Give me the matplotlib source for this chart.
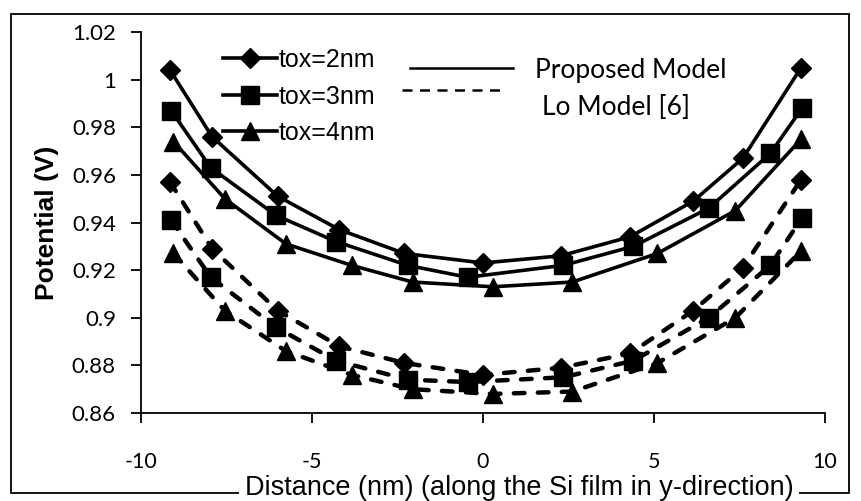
import matplotlib
matplotlib.use('Agg')
import matplotlib.pyplot as plt
from matplotlib.lines import Line2D
from matplotlib.patches import Rectangle

plt.rcParams['axes.unicode_minus'] = False

# x positions (nm) for each oxide thickness
x_tox2 = [-9.15, -7.92, -6.0, -4.2, -2.3, 0.0, 2.27, 4.3, 6.15, 7.6, 9.3]
x_tox3 = [-9.12, -7.96, -6.05, -4.3, -2.2, -0.45, 2.35, 4.4, 6.6, 8.4, 9.33]
x_tox4 = [-9.05, -7.55, -5.76, -3.84, -2.06, 0.28, 2.61, 5.1, 7.38, 9.3]

# proposed model (solid)
prop_tox2 = [1.004, 0.976, 0.951, 0.937, 0.927, 0.923, 0.926, 0.934, 0.949, 0.967, 1.005]
prop_tox3 = [0.987, 0.963, 0.943, 0.932, 0.922, 0.917, 0.922, 0.930, 0.946, 0.969, 0.988]
prop_tox4 = [0.974, 0.950, 0.931, 0.922, 0.915, 0.913, 0.915, 0.927, 0.945, 0.975]

# Lo model [6] (dashed)
lo_tox2 = [0.957, 0.929, 0.903, 0.888, 0.881, 0.876, 0.879, 0.885, 0.903, 0.921, 0.958]
lo_tox3 = [0.941, 0.917, 0.896, 0.882, 0.874, 0.873, 0.875, 0.882, 0.900, 0.922, 0.942]
lo_tox4 = [0.927, 0.903, 0.886, 0.876, 0.870, 0.868, 0.869, 0.881, 0.900, 0.928]

labels = ['tox=2nm', 'tox=3nm', 'tox=4nm']
markers = ['D', 's', '^']
msizes = [10, 12.5, 13]
x_ticks = [-10, -5, 0, 5, 10]
y_ticks = [0.86, 0.88, 0.9, 0.92, 0.94, 0.96, 0.98, 1.0, 1.02]
y_ticklabels = ['0.86', '0.88', '0.9', '0.92', '0.94', '0.96', '0.98', '1', '1.02']

fig = plt.figure(figsize=(8.61, 5.01), dpi=100)
ax = fig.add_axes([141 / 861, 88 / 501, 684 / 861, 381 / 501])

xs = [x_tox2, x_tox3, x_tox4]
props = [prop_tox2, prop_tox3, prop_tox4]
los = [lo_tox2, lo_tox3, lo_tox4]

handles = []
for x, yp, yl, m, ms, lab in zip(xs, props, los, markers, msizes, labels):
    h, = ax.plot(x, yp, color='black', lw=2.6, marker=m, ms=ms, label=lab)
    ax.plot(x, yl, color='black', lw=3.2, marker=m, ms=ms,
            dashes=(2.4, 3.0), dash_capstyle='round')
    handles.append(h)

ax.set_xlim(-10, 10)
ax.set_ylim(0.86, 1.02)
ax.set_xticks(x_ticks)
ax.set_yticks(y_ticks)
ax.set_yticklabels(y_ticklabels)
for sp in ['top', 'right']:
    ax.spines[sp].set_visible(False)
for sp in ['left', 'bottom']:
    ax.spines[sp].set_linewidth(1.3)
ax.tick_params(axis='y', direction='out', length=7, width=1.3, pad=11, labelsize=16)
ax.tick_params(axis='x', direction='out', length=7, width=1.3, pad=21, labelsize=15.5)
for t in ax.get_xticklabels() + ax.get_yticklabels():
    t.set_fontfamily('Lato')

ax.set_ylabel('Potential (V)', fontsize=19, fontweight='bold',
              fontfamily='Liberation Sans', labelpad=9)

ax.legend(handles=handles, loc='upper left', bbox_to_anchor=(0.12, 0.958),
          frameon=False, borderpad=0, borderaxespad=0, handlelength=2.15,
          handletextpad=0.06, labelspacing=0.5,
          prop={'family': 'Liberation Sans', 'size': 18})

# model key, drawn by hand as in the original
ax.add_line(Line2D([0.393, 0.544], [0.905, 0.905], transform=ax.transAxes,
                   color='black', lw=1.8))
ax.add_line(Line2D([0.382, 0.535], [0.848, 0.848], transform=ax.transAxes,
                   color='black', lw=1.8, dashes=(4, 3)))
ax.text(0.576, 0.900, 'Proposed Model', transform=ax.transAxes, va='center',
        fontsize=19, fontfamily='Lato')
ax.text(0.586, 0.803, 'Lo Model [6]', transform=ax.transAxes, va='center',
        fontsize=19, fontfamily='Lato')

# outer frame of the original figure
fig.patches.append(Rectangle((11 / 861, 8 / 501), 838 / 861, 479 / 501,
                             transform=fig.transFigure, fill=False,
                             edgecolor='black', lw=1.3))
fig.text(519 / 861, 6 / 501, 'Distance (nm) (along the Si film in y-direction)',
         ha='center', va='baseline', fontsize=19.5, fontfamily='Liberation Sans',
         bbox=dict(facecolor='white', edgecolor='none', pad=4))

fig.savefig('out.png', dpi=100)
